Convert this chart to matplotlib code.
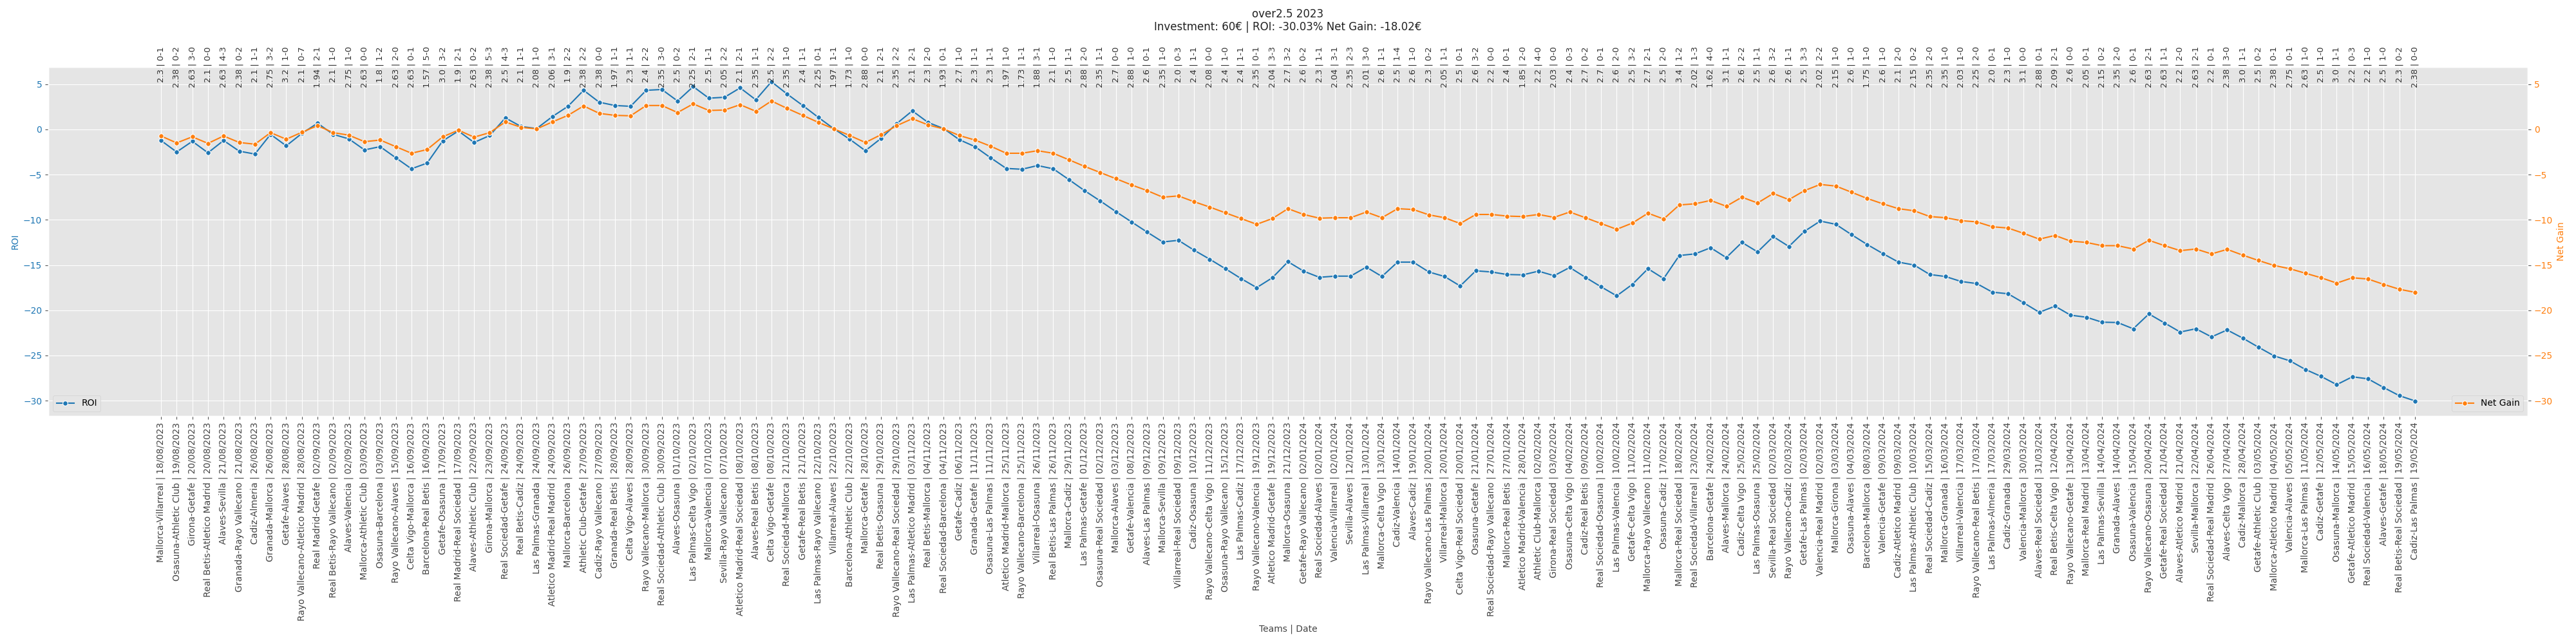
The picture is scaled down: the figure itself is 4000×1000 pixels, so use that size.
import matplotlib
matplotlib.use("Agg")
import matplotlib.pyplot as plt
import matplotlib.transforms as mtransforms

teams = [
    "Mallorca-Villarreal", "Osasuna-Athletic Club", "Girona-Getafe", "Real Betis-Atletico Madrid",
    "Alaves-Sevilla", "Granada-Rayo Vallecano", "Cadiz-Almeria", "Granada-Mallorca",
    "Getafe-Alaves", "Rayo Vallecano-Atletico Madrid", "Real Madrid-Getafe", "Real Betis-Rayo Vallecano",
    "Alaves-Valencia", "Mallorca-Athletic Club", "Osasuna-Barcelona", "Rayo Vallecano-Alaves",
    "Celta Vigo-Mallorca", "Barcelona-Real Betis", "Getafe-Osasuna", "Real Madrid-Real Sociedad",
    "Alaves-Athletic Club", "Girona-Mallorca", "Real Sociedad-Getafe", "Real Betis-Cadiz",
    "Las Palmas-Granada", "Atletico Madrid-Real Madrid", "Mallorca-Barcelona", "Athletic Club-Getafe",
    "Cadiz-Rayo Vallecano", "Granada-Real Betis", "Celta Vigo-Alaves", "Rayo Vallecano-Mallorca",
    "Real Sociedad-Athletic Club", "Alaves-Osasuna", "Las Palmas-Celta Vigo", "Mallorca-Valencia",
    "Sevilla-Rayo Vallecano", "Atletico Madrid-Real Sociedad", "Alaves-Real Betis", "Celta Vigo-Getafe",
    "Real Sociedad-Mallorca", "Getafe-Real Betis", "Las Palmas-Rayo Vallecano", "Villarreal-Alaves",
    "Barcelona-Athletic Club", "Mallorca-Getafe", "Real Betis-Osasuna", "Rayo Vallecano-Real Sociedad",
    "Las Palmas-Atletico Madrid", "Real Betis-Mallorca", "Real Sociedad-Barcelona", "Getafe-Cadiz",
    "Granada-Getafe", "Osasuna-Las Palmas", "Atletico Madrid-Mallorca", "Rayo Vallecano-Barcelona",
    "Villarreal-Osasuna", "Real Betis-Las Palmas", "Mallorca-Cadiz", "Las Palmas-Getafe",
    "Osasuna-Real Sociedad", "Mallorca-Alaves", "Getafe-Valencia", "Alaves-Las Palmas",
    "Mallorca-Sevilla", "Villarreal-Real Sociedad", "Cadiz-Osasuna", "Rayo Vallecano-Celta Vigo",
    "Osasuna-Rayo Vallecano", "Las Palmas-Cadiz", "Rayo Vallecano-Valencia", "Atletico Madrid-Getafe",
    "Mallorca-Osasuna", "Getafe-Rayo Vallecano", "Real Sociedad-Alaves", "Valencia-Villarreal",
    "Sevilla-Alaves", "Las Palmas-Villarreal", "Mallorca-Celta Vigo", "Cadiz-Valencia",
    "Alaves-Cadiz", "Rayo Vallecano-Las Palmas", "Villarreal-Mallorca", "Celta Vigo-Real Sociedad",
    "Osasuna-Getafe", "Real Sociedad-Rayo Vallecano", "Mallorca-Real Betis", "Atletico Madrid-Valencia",
    "Athletic Club-Mallorca", "Girona-Real Sociedad", "Osasuna-Celta Vigo", "Cadiz-Real Betis",
    "Real Sociedad-Osasuna", "Las Palmas-Valencia", "Getafe-Celta Vigo", "Mallorca-Rayo Vallecano",
    "Osasuna-Cadiz", "Mallorca-Real Sociedad", "Real Sociedad-Villarreal", "Barcelona-Getafe",
    "Alaves-Mallorca", "Cadiz-Celta Vigo", "Las Palmas-Osasuna", "Sevilla-Real Sociedad",
    "Rayo Vallecano-Cadiz", "Getafe-Las Palmas", "Valencia-Real Madrid", "Mallorca-Girona",
    "Osasuna-Alaves", "Barcelona-Mallorca", "Valencia-Getafe", "Cadiz-Atletico Madrid",
    "Las Palmas-Athletic Club", "Real Sociedad-Cadiz", "Mallorca-Granada", "Villarreal-Valencia",
    "Rayo Vallecano-Real Betis", "Las Palmas-Almeria", "Cadiz-Granada", "Valencia-Mallorca",
    "Alaves-Real Sociedad", "Real Betis-Celta Vigo", "Rayo Vallecano-Getafe", "Mallorca-Real Madrid",
    "Las Palmas-Sevilla", "Granada-Alaves", "Osasuna-Valencia", "Rayo Vallecano-Osasuna",
    "Getafe-Real Sociedad", "Alaves-Atletico Madrid", "Sevilla-Mallorca", "Real Sociedad-Real Madrid",
    "Alaves-Celta Vigo", "Cadiz-Mallorca", "Getafe-Athletic Club", "Mallorca-Atletico Madrid",
    "Valencia-Alaves", "Mallorca-Las Palmas", "Cadiz-Getafe", "Osasuna-Mallorca",
    "Getafe-Atletico Madrid", "Real Sociedad-Valencia", "Alaves-Getafe", "Real Betis-Real Sociedad",
    "Cadiz-Las Palmas",
]

dates = [
    "18/08/2023", "19/08/2023", "20/08/2023", "20/08/2023", "21/08/2023", "21/08/2023", "26/08/2023",
    "26/08/2023", "28/08/2023", "28/08/2023", "02/09/2023", "02/09/2023", "02/09/2023", "03/09/2023",
    "03/09/2023", "15/09/2023", "16/09/2023", "16/09/2023", "17/09/2023", "17/09/2023", "22/09/2023",
    "23/09/2023", "24/09/2023", "24/09/2023", "24/09/2023", "24/09/2023", "26/09/2023", "27/09/2023",
    "27/09/2023", "28/09/2023", "28/09/2023", "30/09/2023", "30/09/2023", "01/10/2023", "02/10/2023",
    "07/10/2023", "07/10/2023", "08/10/2023", "08/10/2023", "08/10/2023", "21/10/2023", "21/10/2023",
    "22/10/2023", "22/10/2023", "22/10/2023", "28/10/2023", "29/10/2023", "29/10/2023", "03/11/2023",
    "04/11/2023", "04/11/2023", "06/11/2023", "11/11/2023", "11/11/2023", "25/11/2023", "25/11/2023",
    "26/11/2023", "26/11/2023", "29/11/2023", "01/12/2023", "02/12/2023", "03/12/2023", "08/12/2023",
    "09/12/2023", "09/12/2023", "09/12/2023", "10/12/2023", "11/12/2023", "15/12/2023", "17/12/2023",
    "19/12/2023", "19/12/2023", "21/12/2023", "02/01/2024", "02/01/2024", "02/01/2024", "12/01/2024",
    "13/01/2024", "13/01/2024", "14/01/2024", "19/01/2024", "20/01/2024", "20/01/2024", "20/01/2024",
    "21/01/2024", "27/01/2024", "27/01/2024", "28/01/2024", "02/02/2024", "03/02/2024", "04/02/2024",
    "09/02/2024", "10/02/2024", "10/02/2024", "11/02/2024", "11/02/2024", "17/02/2024", "18/02/2024",
    "23/02/2024", "24/02/2024", "24/02/2024", "25/02/2024", "25/02/2024", "02/03/2024", "02/03/2024",
    "02/03/2024", "02/03/2024", "03/03/2024", "04/03/2024", "08/03/2024", "09/03/2024", "09/03/2024",
    "10/03/2024", "15/03/2024", "16/03/2024", "17/03/2024", "17/03/2024", "17/03/2024", "29/03/2024",
    "30/03/2024", "31/03/2024", "12/04/2024", "13/04/2024", "13/04/2024", "14/04/2024", "14/04/2024",
    "15/04/2024", "20/04/2024", "21/04/2024", "21/04/2024", "22/04/2024", "26/04/2024", "27/04/2024",
    "28/04/2024", "03/05/2024", "04/05/2024", "05/05/2024", "11/05/2024", "12/05/2024", "14/05/2024",
    "15/05/2024", "16/05/2024", "18/05/2024", "19/05/2024", "19/05/2024",
]

odds = [
    "2.3", "2.38", "2.63", "2.1", "2.63", "2.38", "2.1", "2.75", "3.2", "2.1", "1.94", "2.1", "2.75",
    "2.63", "1.8", "2.63", "2.63", "1.57", "3.0", "1.9", "2.63", "2.38", "2.5", "2.1", "2.08", "2.06",
    "1.9", "2.38", "2.38", "1.97", "2.3", "2.4", "2.35", "2.5", "2.25", "2.5", "2.05", "2.1", "2.35",
    "2.5", "2.35", "2.4", "2.25", "1.97", "1.73", "2.88", "2.1", "2.35", "2.1", "2.3", "1.93", "2.7",
    "2.3", "2.3", "1.97", "1.73", "1.88", "2.1", "2.5", "2.88", "2.35", "2.7", "2.88", "2.6", "2.35",
    "2.0", "2.4", "2.08", "2.4", "2.4", "2.35", "2.04", "2.7", "2.6", "2.3", "2.04", "2.35", "2.01",
    "2.6", "2.5", "2.6", "2.3", "2.05", "2.5", "2.6", "2.2", "2.4", "1.85", "2.2", "2.03", "2.4",
    "2.7", "2.7", "2.6", "2.5", "2.7", "2.5", "3.4", "2.02", "1.62", "3.1", "2.6", "2.5", "2.6",
    "2.6", "2.5", "2.02", "2.15", "2.6", "1.75", "2.6", "2.1", "2.15", "2.35", "2.35", "2.03", "2.25",
    "2.0", "2.3", "3.1", "2.88", "2.09", "2.6", "2.05", "2.15", "2.35", "2.6", "2.63", "2.63", "2.2",
    "2.63", "2.2", "2.38", "3.0", "2.5", "2.38", "2.75", "2.63", "2.5", "3.0", "2.2", "2.2", "2.5",
    "2.3", "2.38",
]

scores = [
    "0-1", "0-2", "3-0", "0-0", "4-3", "0-2", "1-1", "3-2", "1-0", "0-7", "2-1", "1-0", "1-0", "0-0",
    "1-2", "2-0", "0-1", "5-0", "3-2", "2-1", "0-2", "5-3", "4-3", "1-1", "1-0", "3-1", "2-2", "2-2",
    "0-0", "1-1", "1-1", "2-2", "3-0", "0-2", "2-1", "1-1", "2-2", "2-1", "1-1", "2-2", "1-0", "1-1",
    "0-1", "1-1", "1-0", "0-0", "2-1", "2-2", "2-1", "2-0", "0-1", "1-0", "1-1", "1-1", "1-0", "1-1",
    "3-1", "1-0", "1-1", "2-0", "1-1", "0-0", "1-0", "0-1", "1-0", "0-3", "1-1", "0-0", "1-0", "1-1",
    "0-1", "3-3", "3-2", "0-2", "1-1", "3-1", "2-3", "3-0", "1-1", "1-4", "1-0", "0-2", "1-1", "0-1",
    "3-2", "0-0", "0-1", "2-0", "4-0", "0-0", "0-3", "0-2", "0-1", "2-0", "3-2", "2-1", "2-0", "1-2",
    "1-3", "4-0", "1-1", "2-2", "1-1", "3-2", "1-1", "3-3", "2-2", "1-0", "1-0", "1-0", "1-0", "2-0",
    "0-2", "2-0", "1-0", "1-0", "2-0", "0-1", "1-0", "0-0", "0-1", "2-1", "0-0", "0-1", "0-2", "2-0",
    "0-1", "2-1", "1-1", "2-0", "2-1", "0-1", "3-0", "1-1", "0-2", "0-1", "0-1", "1-0", "1-0", "1-1",
    "0-3", "1-0", "1-0", "0-2", "0-0",
]

roi = [
    -1.23, -2.5, -1.32, -2.59, -1.23, -2.41, -2.73, -0.55, -1.82, -0.45, 0.68, -0.55, -1.05, -2.27,
    -1.91, -3.14, -4.36, -3.73, -1.27, -0.18, -1.45, -0.68, 1.27, 0.32, 0.09, 1.41, 2.55, 4.32, 3.0,
    2.64, 2.55, 4.32, 4.41, 3.14, 4.73, 3.45, 3.55, 4.59, 3.27, 5.27, 3.91, 2.64, 1.32, 0.05, -1.09,
    -2.36, -1.0, 0.64, 2.05, 0.77, 0.09, -1.14, -1.91, -3.14, -4.32, -4.41, -4.0, -4.36, -5.55, -6.77,
    -7.91, -9.09, -10.23, -11.36, -12.45, -12.27, -13.36, -14.36, -15.41, -16.5, -17.5, -16.41, -14.64,
    -15.68, -16.36, -16.23, -16.23, -15.23, -16.27, -14.68, -14.68, -15.77, -16.27, -17.32, -15.64,
    -15.77, -16.05, -16.09, -15.68, -16.18, -15.27, -16.36, -17.41, -18.41, -17.14, -15.41, -16.5,
    -13.95, -13.77, -13.09, -14.18, -12.5, -13.55, -11.86, -12.95, -11.27, -10.14, -10.5, -11.64,
    -12.73, -13.73, -14.68, -15.0, -16.05, -16.27, -16.82, -17.05, -18.0, -18.18, -19.18, -20.23,
    -19.55, -20.55, -20.77, -21.32, -21.36, -22.05, -20.41, -21.41, -22.41, -22.05, -22.95, -22.18,
    -23.09, -24.09, -25.05, -25.59, -26.55, -27.32, -28.23, -27.36, -27.59, -28.55, -29.45, -30.03,
]

net_gain = [
    -0.73, -1.5, -0.82, -1.55, -0.73, -1.45, -1.64, -0.36, -1.09, -0.32, 0.41, -0.36, -0.64, -1.36,
    -1.18, -1.91, -2.64, -2.23, -0.82, -0.09, -0.86, -0.36, 0.82, 0.23, 0.05, 0.82, 1.55, 2.59, 1.77,
    1.55, 1.5, 2.64, 2.64, 1.86, 2.82, 2.09, 2.14, 2.73, 2.0, 3.14, 2.32, 1.55, 0.77, 0.05, -0.68,
    -1.45, -0.59, 0.41, 1.18, 0.5, 0.05, -0.68, -1.18, -1.86, -2.64, -2.64, -2.36, -2.64, -3.36, -4.09,
    -4.77, -5.45, -6.14, -6.77, -7.5, -7.36, -8.0, -8.59, -9.23, -9.86, -10.5, -9.86, -8.77,
    -9.41, -9.82, -9.77, -9.77, -9.14, -9.77, -8.77, -8.86, -9.45, -9.77, -10.41, -9.41,
    -9.41, -9.59, -9.64, -9.41, -9.73, -9.14, -9.77, -10.41, -11.05, -10.36, -9.27, -9.91,
    -8.36, -8.23, -7.86, -8.5, -7.5, -8.14, -7.09, -7.77, -6.77, -6.09, -6.27, -6.95,
    -7.64, -8.23, -8.77, -9.0, -9.64, -9.77, -10.09, -10.23, -10.77, -10.91, -11.5, -12.14,
    -11.73, -12.36, -12.5, -12.86, -12.86, -13.23, -12.27, -12.86, -13.41, -13.23, -13.77, -13.27,
    -13.91, -14.5, -15.05, -15.41, -15.91, -16.41, -17.0, -16.41, -16.55, -17.14, -17.68, -18.02,
]

title_text = "over2.5 2023\nInvestment: 60€ | ROI: -30.03% Net Gain: -18.02€"

plt.style.use("ggplot")
plt.rcParams["font.family"] = ["DejaVu Sans"]

fig = plt.figure(figsize=(40, 10), dpi=100)
ax = fig.add_axes([0.01875, 0.354, 0.9625, 0.542])
ax2 = ax.twinx()

x = list(range(len(teams)))
blue = "#1f77b4"
orange = "#ff7f0e"

l1, = ax.plot(x, roi, color=blue, marker="o", markersize=5.5, markeredgecolor="white",
              markeredgewidth=0.8, linewidth=1.5, label="ROI")
l2, = ax2.plot(x, net_gain, color=orange, marker="o", markersize=5.5, markeredgecolor="white",
               markeredgewidth=0.8, linewidth=1.5, label="Net Gain")

ylim = (-31.7, 6.9)
ax.set_ylim(*ylim)
ax2.set_ylim(*ylim)
ax.set_xlim(-7.2, len(teams) - 1 + 7.2)
yt = [5, 0, -5, -10, -15, -20, -25, -30]
ax.set_yticks(yt)
ax2.set_yticks(yt)
ax2.grid(False)

ax.set_xticks(x)
ax.set_xticklabels([f"{t} | {d}" for t, d in zip(teams, dates)], rotation=90, fontsize=10,
                   color="#444444")
ax.tick_params(axis="y", labelcolor=blue, labelsize=10)
ax2.tick_params(axis="y", labelcolor=orange, labelsize=10)
ax.set_ylabel("ROI", color=blue, fontsize=10)
ax2.set_ylabel("Net Gain", color=orange, fontsize=10)
ax.set_xlabel("Teams | Date", fontsize=10, color="#444444")

trans = mtransforms.blended_transform_factory(ax.transData, ax.transAxes)
for i, (o, s) in enumerate(zip(odds, scores)):
    ax.text(i, 1.059, f"{o} | {s}", rotation=90, ha="center", va="top", fontsize=9.5,
            color="#333333", transform=trans, clip_on=False)

ax.set_title(title_text, fontsize=12, y=1.089, color="#222222")

ax.legend(handles=[l1], loc="lower left", fontsize=10)
ax2.legend(handles=[l2], loc="lower right", fontsize=10)

fig.savefig("out.png", dpi=100)
